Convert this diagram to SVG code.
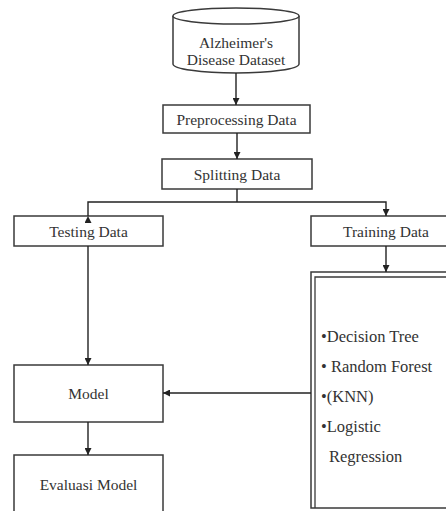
<svg xmlns="http://www.w3.org/2000/svg" width="446" height="511" viewBox="0 0 446 511">
<defs>
<marker id="ah" viewBox="0 0 10 10" refX="10" refY="5" markerWidth="7" markerHeight="7" markerUnits="userSpaceOnUse" orient="auto">
<path d="M0,0 L10,5 L0,10 z" fill="#222"/>
</marker>
</defs>
<style>
.box{fill:#fff;stroke:#3a3a3a;stroke-width:1.5}
.t{font-family:"Liberation Serif","Times New Roman",serif;font-size:15.5px;fill:#333;text-anchor:middle}
.li{font-family:"Liberation Serif","Times New Roman",serif;font-size:16.5px;fill:#333}
.c{fill:none;stroke:#222;stroke-width:1.4}
</style>
<rect width="446" height="511" fill="#fff"/>
<g id="dataset">
<path class="box" d="M173,16 L173,64 A63,9 0 0 0 299,64 L299,16"/>
<ellipse class="box" cx="236" cy="16" rx="63" ry="8"/>
<text class="t" x="236" y="48">Alzheimer's</text>
<text class="t" x="236" y="65">Disease Dataset</text>
</g>
<g id="preprocessing">
<rect class="box" x="163" y="105" width="147" height="28"/>
<text class="t" x="236.5" y="124.5">Preprocessing Data</text>
</g>
<g id="splitting">
<rect class="box" x="162" y="159" width="150" height="30"/>
<text class="t" x="237" y="179.5">Splitting Data</text>
</g>
<g id="testing">
<rect class="box" x="14" y="216" width="149" height="30"/>
<text class="t" x="88.5" y="236.5">Testing Data</text>
</g>
<g id="training">
<rect class="box" x="311" y="216" width="140" height="30"/>
<text class="t" x="386" y="236.5">Training Data</text>
</g>
<g id="algorithms">
<rect class="box" x="311" y="272" width="140" height="236"/>
<path fill="none" stroke="#3a3a3a" stroke-width="1.3" d="M315,508 L315,277 L451,277"/>
<text class="li" x="321" y="342">•Decision Tree</text>
<text class="li" x="321" y="372">• Random Forest</text>
<text class="li" x="321" y="402">•(KNN)</text>
<text class="li" x="321" y="432">•Logistic</text>
<text class="li" x="329" y="462">Regression</text>
</g>
<g id="model">
<rect class="box" x="14" y="365" width="149" height="57"/>
<text class="t" x="88.5" y="398.5">Model</text>
</g>
<g id="evaluasi">
<rect class="box" x="14" y="455" width="149" height="62"/>
<text class="t" x="88.5" y="490">Evaluasi Model</text>
</g>
<g id="connectors">
<line class="c" x1="236" y1="73" x2="236" y2="105" marker-end="url(#ah)"/>
<line class="c" x1="237" y1="133" x2="237" y2="159" marker-end="url(#ah)"/>
<polyline class="c" points="237,189 237,202"/>
<polyline class="c" points="88,216 88,202 386,202 386,216" marker-start="url(#ah)" marker-end="url(#ah)"/>
<line class="c" x1="386" y1="246" x2="386" y2="272" marker-end="url(#ah)"/>
<line class="c" x1="88" y1="246" x2="88" y2="365" marker-end="url(#ah)"/>
<line class="c" x1="311" y1="393" x2="163" y2="393" marker-end="url(#ah)"/>
<line class="c" x1="88" y1="422" x2="88" y2="455" marker-end="url(#ah)"/>
</g>
</svg>
